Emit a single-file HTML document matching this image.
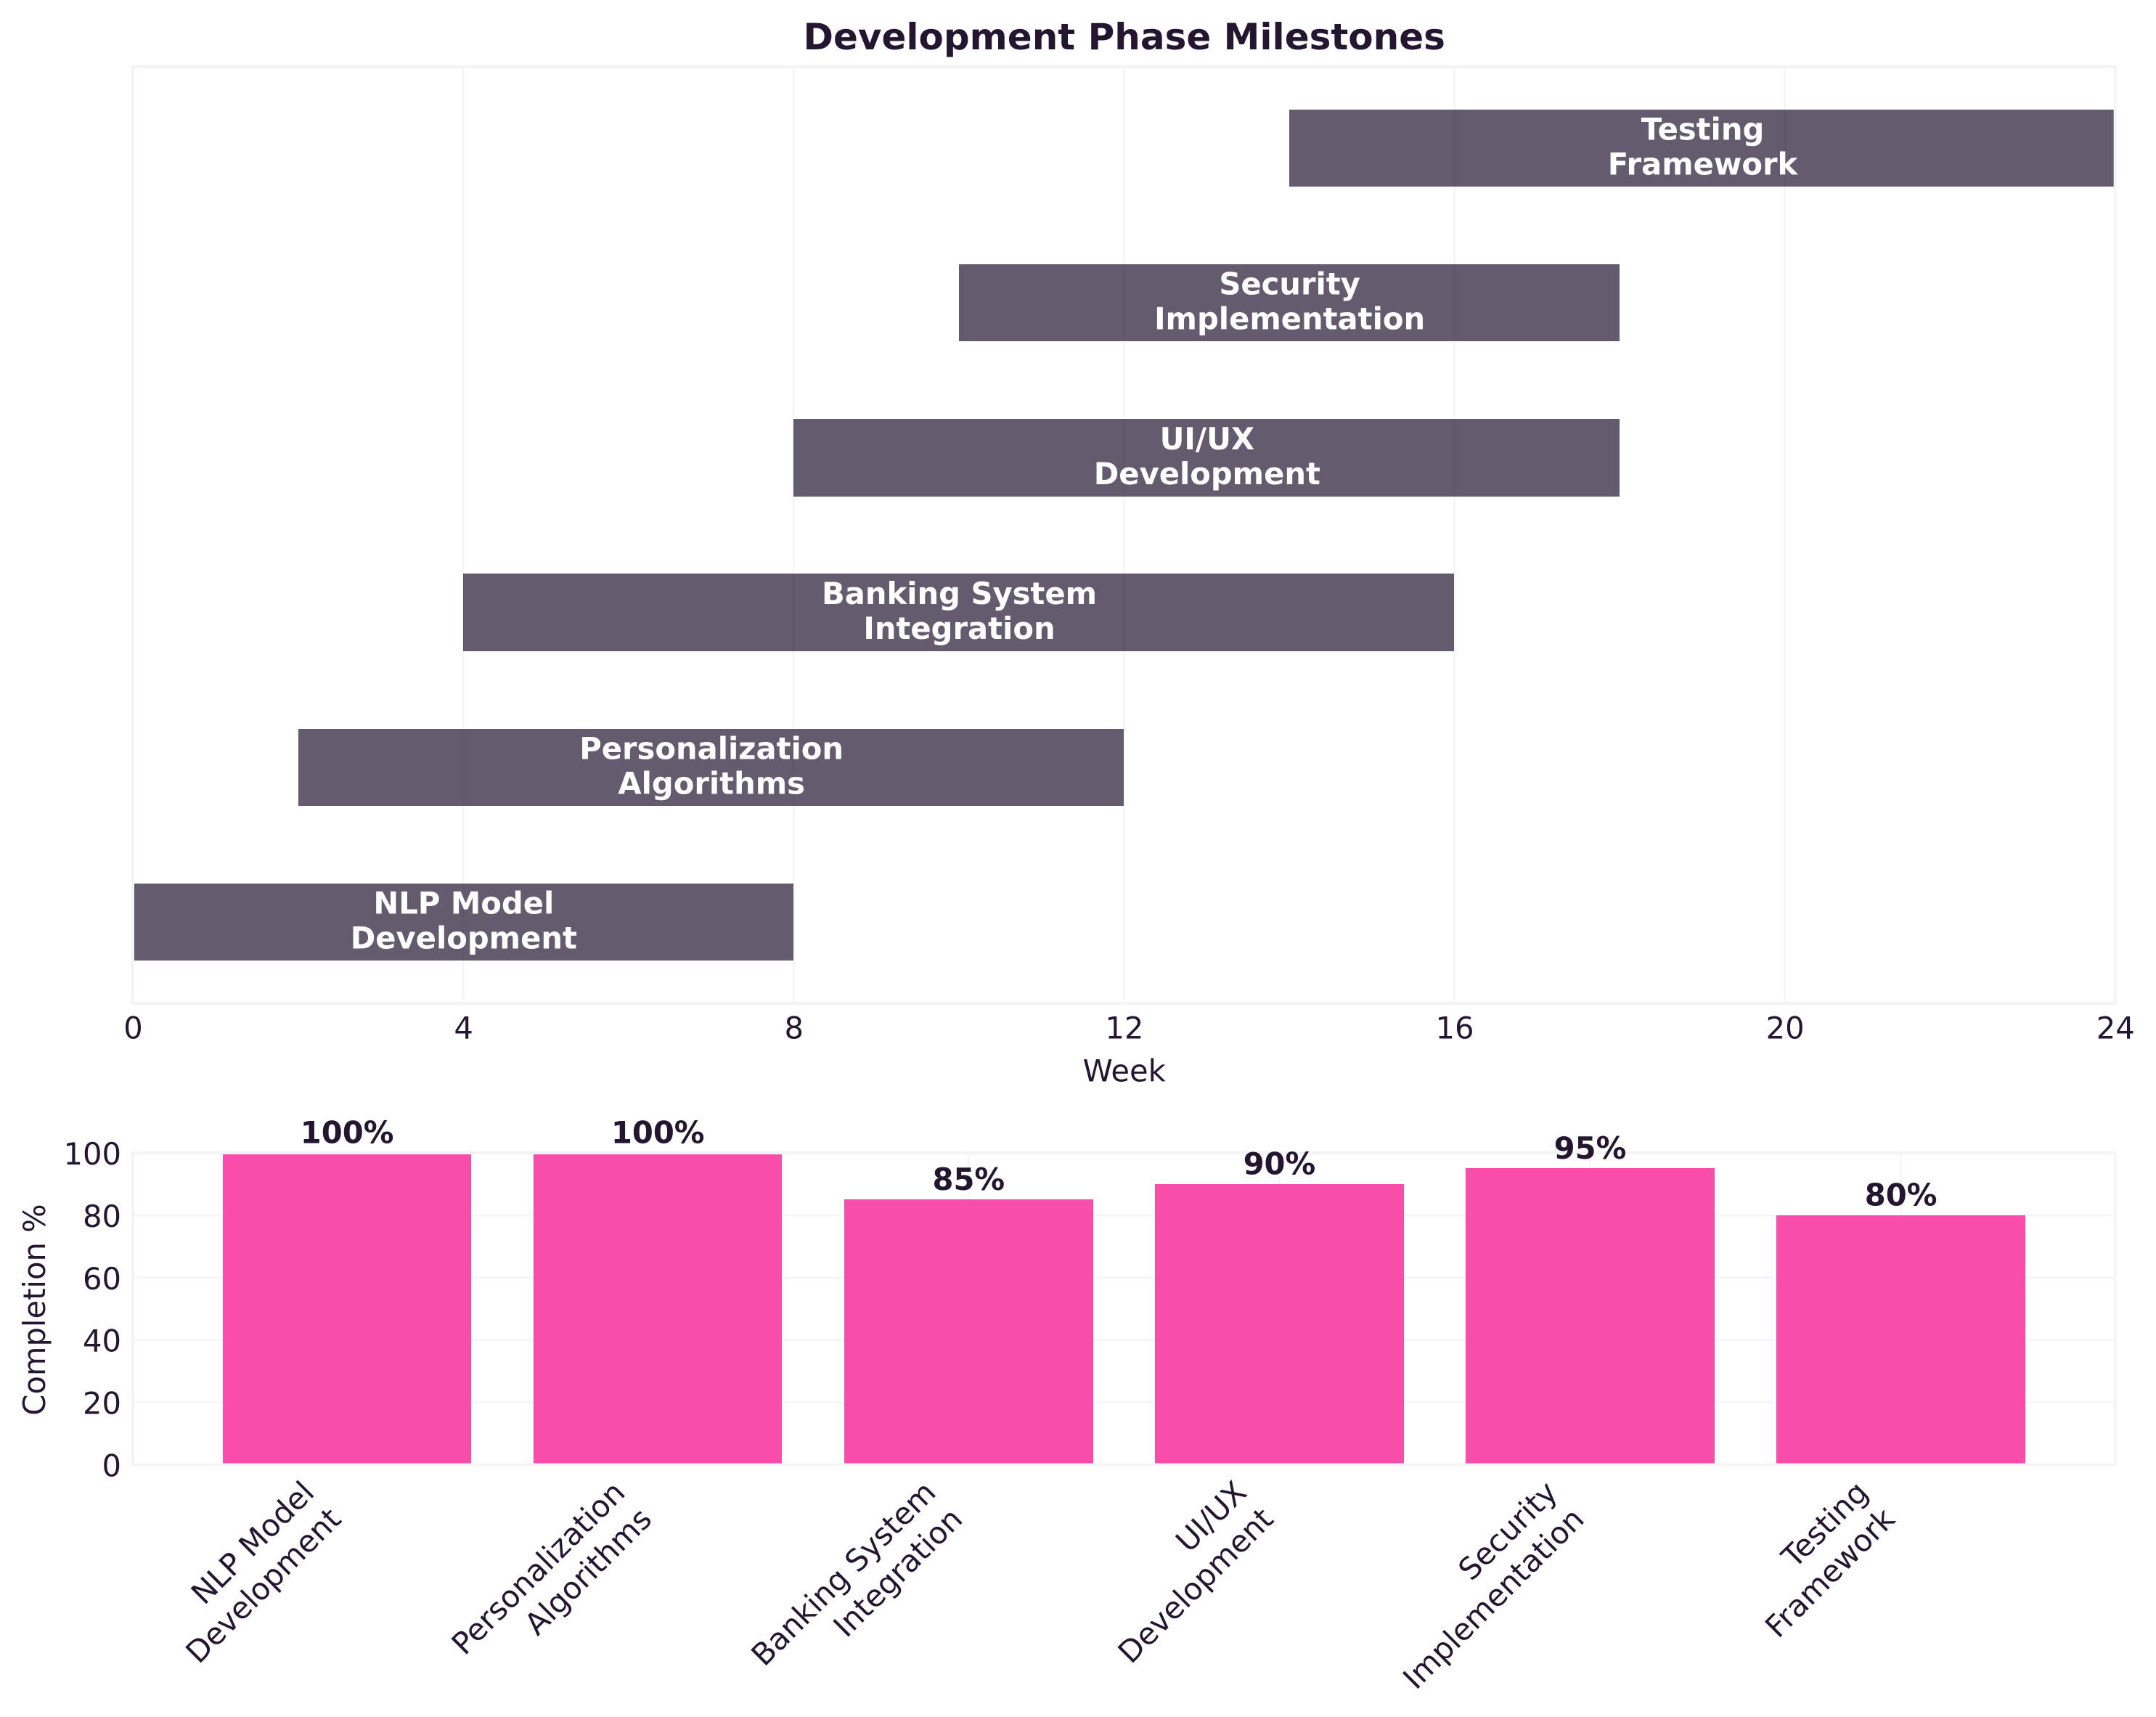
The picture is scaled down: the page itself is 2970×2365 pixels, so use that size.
<!DOCTYPE html>
<html lang="en">
<head>
<meta charset="utf-8">
<title>Development Phase Milestones</title>
<style>
html,body{margin:0;padding:0;background:#fff;width:2970px;height:2365px;overflow:hidden}
svg{display:block}
text{font-family:"DejaVu Sans","Liberation Sans",sans-serif;fill:#241630}
</style>
</head>
<body>
<svg id="chart" xmlns="http://www.w3.org/2000/svg" width="2970" height="2365" viewBox="0 0 2970 2365">
<rect x="0" y="0" width="2970" height="2365" fill="#ffffff"/>
<text x="1548.7" y="68" text-anchor="middle" font-size="50" font-weight="700">Development Phase Milestones</text>
<text x="1548.7" y="1489.3" text-anchor="middle" font-size="41.67">Week</text>
<text x="62" y="1804" text-anchor="middle" font-size="41.67" transform="rotate(-90 62 1804)">Completion %</text>
</svg>
<script>
const phaseLabels = [
  ["NLP Model", "Development"],
  ["Personalization", "Algorithms"],
  ["Banking System", "Integration"],
  ["UI/UX", "Development"],
  ["Security", "Implementation"],
  ["Testing", "Framework"]
];
const startWeeks = [0, 2, 4, 8, 10, 14];
const endWeeks = [8, 12, 16, 18, 18, 24];
const completion = [100, 100, 85, 90, 95, 80];
const weekTicks = [0, 4, 8, 12, 16, 20, 24];
const percentTicks = [0, 20, 40, 60, 80, 100];

const svg = document.getElementById('chart');
const NS = 'http://www.w3.org/2000/svg';
const LEFT = 183, RIGHT = 2913.7;
const TOP1 = 92, BOTTOM1 = 1382;
const TOP2 = 1588, BOTTOM2 = 2017.5;
const SPINE = '#f4f4f4', GRID = '#f6f6f6';
const FS = 41.67;

const xWeek = w => LEFT + (w - 0) / 24 * (RIGHT - LEFT);
const yRow = r => BOTTOM1 - (r + 0.525) / 6.05 * (BOTTOM1 - TOP1);
const xCat = i => LEFT + (i + 0.6893) / 6.3785 * (RIGHT - LEFT);
const yPct = p => BOTTOM2 - p / 100 * (BOTTOM2 - TOP2);

function make(tag, attrs, text) {
  const node = document.createElementNS(NS, tag);
  for (const k in attrs) node.setAttribute(k, attrs[k]);
  if (text !== undefined) node.textContent = text;
  svg.appendChild(node);
  return node;
}
function line(x1, y1, x2, y2, color, width) {
  return make('line', { x1, y1, x2, y2, stroke: color, 'stroke-width': width });
}
function joined(parts) { return parts.join(' '); }

/* gridlines: upper */
weekTicks.forEach(w => {
  const g = line(xWeek(w), TOP1, xWeek(w), BOTTOM1, GRID, 3);
  
  
});
/* gridlines: lower */
percentTicks.forEach(p => {
  const g = line(LEFT, yPct(p), RIGHT, yPct(p), GRID, 3);
  
  
});
completion.forEach((c, i) => {
  const g = line(xCat(i), TOP2, xCat(i), BOTTOM2, GRID, 3);
  
  
});

/* gantt bars */
startWeeks.forEach((s, i) => {
  const h = (yRow(0) - yRow(1)) * 0.5;
  const x0 = Math.round(xWeek(s)), x1 = Math.round(xWeek(endWeeks[i]));
  const y0 = Math.round(yRow(i) - h / 2), y1 = Math.round(yRow(i) + h / 2);
  const b = make('rect', {
    x: x0, y: y0,
    width: x1 - x0, height: y1 - y0,
    fill: '#241630', 'fill-opacity': 0.7
  });
  
  
});

/* completion bars */
completion.forEach((c, i) => {
  const half = (xCat(1) - xCat(0)) * 0.4;
  const x0 = Math.round(xCat(i) - half), x1 = Math.round(xCat(i) + half);
  const y0 = Math.round(yPct(c));
  const b = make('rect', {
    x: x0, y: y0,
    width: x1 - x0, height: yPct(0) - y0,
    fill: '#fa4cab'
  });
  
  
});

/* spines */
[[TOP1, BOTTOM1], [TOP2, BOTTOM2]].forEach(([t, b]) => {
  const r = make('rect', { x: LEFT, y: t, width: RIGHT - LEFT, height: b - t, fill: 'none', stroke: SPINE, 'stroke-width': 4 });
  
  
});

/* gantt labels */
startWeeks.forEach((s, i) => {
  const cx = xWeek((s + endWeeks[i]) / 2) + 0.7;
  const cy = yRow(i);
  phaseLabels[i].forEach((t, k) => {
    const n = make('text', {
      x: cx, y: cy + (k === 0 ? -11.5 : 36.5),
      'text-anchor': 'middle', 'font-size': FS, 'font-weight': 700, style: 'fill:#ffffff'
    }, t);
    
    
  });
});

/* week ticks */
weekTicks.forEach(w => {
  const n = make('text', { x: xWeek(w) + 0.5, y: 1430.7, 'text-anchor': 'middle', 'font-size': FS }, String(w));
  
  
});

/* percent ticks */
percentTicks.forEach(p => {
  const n = make('text', { x: 167, y: yPct(p) + 16, 'text-anchor': 'end', 'font-size': FS }, String(p));
  
  
});

/* value labels */
completion.forEach((c, i) => {
  const n = make('text', { x: xCat(i), y: yPct(c) - 13.5, 'text-anchor': 'middle', 'font-size': FS, 'font-weight': 700 }, c + '%');
  
  
});

/* rotated category labels */
const S = Math.SQRT1_2;
phaseLabels.forEach((lines, i) => {
  const tx = xCat(i) + 1, ty = 2102;
  lines.forEach((t, k) => {
    const up = 10 + (1 - k) * 52;
    const px = tx - up * S, py = ty - up * S;
    const n = make('text', {
      x: px, y: py, 'text-anchor': 'end', 'font-size': FS,
      transform: joined(['rotate(-45', px, py + ')'])
    }, t);
    
    
  });
});
</script>
</body>
</html>
